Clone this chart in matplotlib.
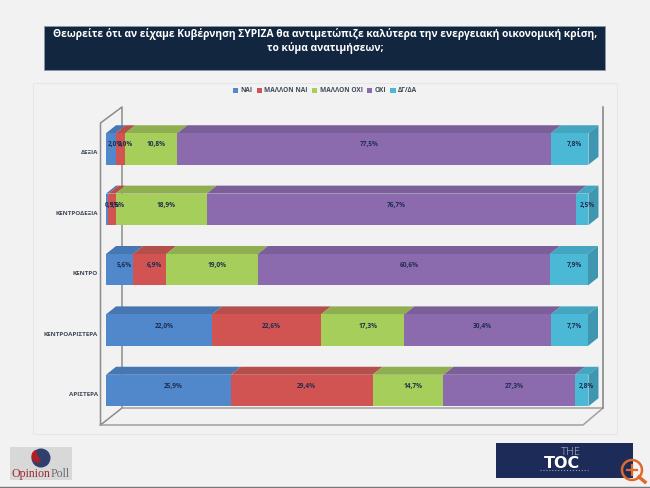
import matplotlib
matplotlib.use('Agg')
import matplotlib.pyplot as plt
from matplotlib.patches import Rectangle, Circle, Wedge
from matplotlib.lines import Line2D

plt.rcParams['font.family'] = ['Open Sans', 'DejaVu Sans']

categories = ['ΔΕΞΙΑ', 'ΚΕΝΤΡΟΔΕΞΙΑ', 'ΚΕΝΤΡΟ', 'ΚΕΝΤΡΟΑΡΙΣΤΕΡΑ', 'ΑΡΙΣΤΕΡΑ']
series_names = ['ΝΑΙ', 'ΜΑΛΛΟΝ ΝΑΙ', 'ΜΑΛΛΟΝ ΟΧΙ', 'ΟΧΙ', 'ΔΓ/ΔΑ']
nai = [2.0, 0.5, 5.6, 22.0, 25.9]
mallon_nai = [2.0, 1.5, 6.9, 22.6, 29.4]
mallon_oxi = [10.8, 18.9, 19.0, 17.3, 14.7]
oxi = [77.5, 76.7, 60.6, 30.4, 27.3]
dg_da = [7.8, 2.5, 7.9, 7.7, 2.8]

front_cols = ['#5088cb', '#d25452', '#a6ce5a', '#8b6aae', '#4bb9d6']
top_cols = ['#4677b2', '#b44f4b', '#8fae50', '#7b5f99', '#43a5bf']
side_col = '#3f96b0'
label_col = '#1f2d50'
bg = '#f2f2f2'

W, H = 650, 488
fig = plt.figure(figsize=(W / 100, H / 100), dpi=100, facecolor=bg)

# full page axes in pixels, for the slide furniture
page = fig.add_axes([0, 0, 1, 1])
page.set_xlim(0, W)
page.set_ylim(H, 0)
page.axis('off')

page.add_patch(Rectangle((44, 26), 561, 43.5, fc='#12263f', ec='#8a97a8', lw=0.6))
page.text(325, 34.5, 'Θεωρείτε ότι αν είχαμε Κυβέρνηση ΣΥΡΙΖΑ θα αντιμετώπιζε καλύτερα την ενεργειακή οικονομική κρίση,',
          color='white', fontsize=7.4, fontweight='bold', ha='center', va='center')
page.text(325, 48, 'το κύμα ανατιμήσεων;', color='white', fontsize=7.4, fontweight='bold',
          ha='center', va='center')
page.add_patch(Rectangle((32.5, 83), 584.5, 351, fc=bg, ec='#e6e6e6', lw=0.8))

# 3d box behind the bars
box_col = '#8c8c8c'
page.plot([100.5, 100.5, 122, 122, 100.5], [425, 123, 107, 408, 425], color=box_col, lw=1.1)
page.plot([100.5, 583, 603, 122], [425, 425, 408, 408], color='#a0a0a0', lw=1.1)
page.plot([603, 603], [107, 408], color='#808080', lw=1.1)

# chart axes: x in percent, y in rows
ax = fig.add_axes([106 / W, 1 - 420.7 / H, 482 / W, (420.7 - 118.8) / H])
ax.patch.set_alpha(0)
ax.set_xlim(0, 100)
ax.set_ylim(4.5, -0.5)
ax.axis('off')

px_x = 100 / 482
px_y = 1 / 60.4
depth_x = 10 * px_x
depth_y = 8 * px_y
bar_h = 31.5 * px_y

rows = [nai, mallon_nai, mallon_oxi, oxi, dg_da]
for i, cat in enumerate(categories):
    left = 0
    top = i - bar_h / 2
    for s, vals in enumerate(rows):
        v = vals[i]
        ax.fill([left, left + depth_x, left + v + depth_x, left + v],
                [top, top - depth_y, top - depth_y, top],
                color=top_cols[s], lw=0, clip_on=False, zorder=2)
        ax.barh(i, v, height=bar_h, left=left, color=front_cols[s], lw=0, zorder=3, clip_on=False)
        left += v
    ax.fill([left, left + depth_x, left + depth_x, left],
            [top, top - depth_y, top - depth_y + bar_h, top + bar_h],
            color=side_col, lw=0, clip_on=False, zorder=2)
    left = 0
    for s, vals in enumerate(rows):
        v = vals[i]
        ax.text(left + v / 2 + depth_x / 2, i - depth_y / 2, f'{v:.1f}%'.replace('.', ','),
                color=label_col, fontsize=4.7, fontweight='bold', ha='center', va='center', zorder=5)
        left += v
    ax.text(-8 * px_x, i + 4 * px_y, cat, color='#404a5a', fontsize=4.5, fontweight='bold',
            ha='right', va='center', clip_on=False)

handles = [Rectangle((0, 0), 1, 1, fc=c, lw=0) for c in front_cols]
page.legend(handles, series_names, loc='center', bbox_to_anchor=(325 / W, 1 - 91 / H),
            bbox_transform=fig.transFigure, ncol=5, frameon=False, handlelength=0.8, handleheight=0.8,
            handletextpad=0.35, columnspacing=0.65, labelcolor='#404a5a',
            prop={'size': 4.7, 'weight': 'bold'})

# opinion poll logo
page.add_patch(Rectangle((10, 447), 62, 33, fc='#d8d8d8', lw=0))
page.add_patch(Circle((41, 458), 9.5, fc='#2f3f6e', lw=0))
page.add_patch(Wedge((38, 456), 6.5, 60, 250, fc='#b01e23', lw=0))
page.text(12, 474, 'Opinion', color='#9c2b2b', fontsize=8.6, family='Liberation Serif', va='center')
page.text(50.5, 474, 'Poll', color='#6e6e6e', fontsize=8.6, family='Liberation Serif', va='center')

# the toc logo
page.add_patch(Rectangle((496, 443), 137, 35, fc='#1c2b58', lw=0))
page.text(571, 452.5, 'THE', color='#b8bdcc', fontsize=8, fontweight='light', ha='center', va='center')
page.text(562, 463.5, 'TOC', color='white', fontsize=11.5, fontweight='bold', family='DejaVu Sans',
          ha='center', va='center')
page.add_line(Line2D([540, 588], [469.5, 469.5], color='#9aa2ba', lw=0.8, ls=':'))

# zoom icon
orange = '#dd6a2c'
page.add_patch(Circle((632, 470), 10, fc='none', ec=orange, lw=1.8))
page.add_line(Line2D([639, 645], [477, 482], color=orange, lw=2.5))
page.add_line(Line2D([627, 637], [470, 470], color=orange, lw=1.6))
page.add_line(Line2D([632, 632], [465, 475], color=orange, lw=1.6))

page.add_line(Line2D([0, W], [487.3, 487.3], color='#777777', lw=1))

fig.savefig('out.png', dpi=100, facecolor=bg)
